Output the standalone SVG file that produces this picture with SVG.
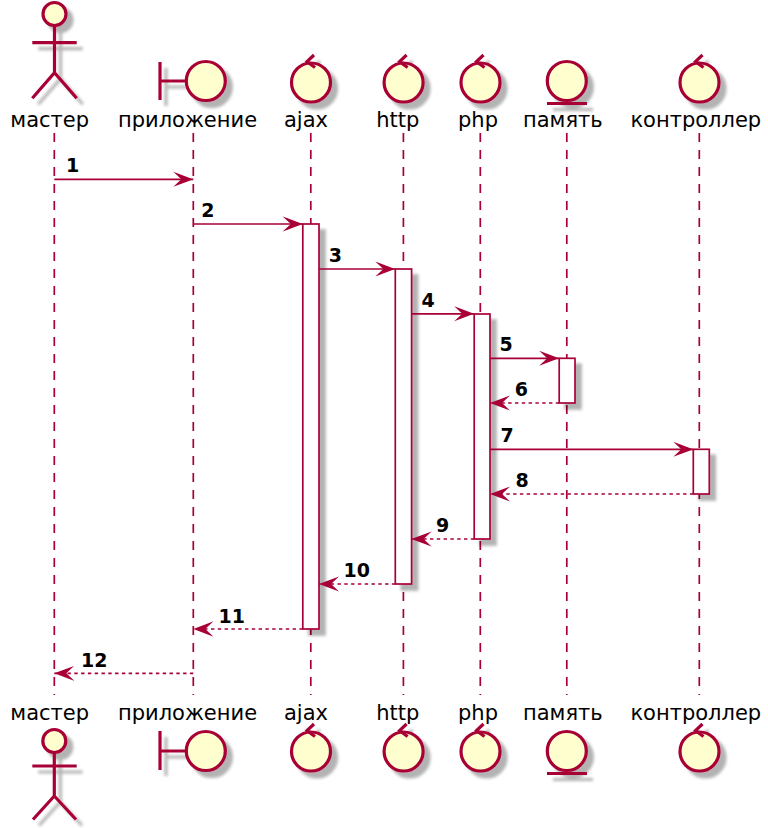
<svg xmlns="http://www.w3.org/2000/svg" width="768" height="828" viewBox="0 0 768 828">
<defs>
<filter id="sh" x="-30%" y="-30%" width="170%" height="170%">
<feGaussianBlur in="SourceAlpha" stdDeviation="1.8"/>
<feOffset dx="6" dy="6" result="o"/>
<feComponentTransfer><feFuncA type="linear" slope="0.3"/></feComponentTransfer>
<feMerge><feMergeNode/><feMergeNode in="SourceGraphic"/></feMerge>
</filter>
<marker id="ah" viewBox="0 0 20 16" refX="20" refY="8" markerWidth="20" markerHeight="16" markerUnits="userSpaceOnUse" orient="auto">
<path d="M20,8 L0,0.5 L8,8 L0,15.5 Z" fill="#A80036"/>
</marker>
</defs>
<style>
.ll{stroke:#A80036;stroke-width:1.7;stroke-dasharray:9,8;fill:none}
.ic{stroke:#A80036;stroke-width:3.2;fill:#FEFECE}
.ln{stroke:#A80036;stroke-width:3.2;fill:none}
.act{stroke:#A80036;stroke-width:1.7;fill:#FFFFFF}
.msg{stroke:#A80036;stroke-width:1.7;fill:none;marker-end:url(#ah)}
.ret{stroke-dasharray:3.4,3.4}
.pn{font-family:"DejaVu Sans",sans-serif;font-size:21px;fill:#000;text-anchor:middle}
.lb{font-family:"DejaVu Sans",sans-serif;font-size:19px;font-weight:bold;fill:#000}
</style>
<rect width="768" height="828" fill="#FFFFFF"/>
<g id="lifelines">
<line class="ll" x1="54.3" y1="133" x2="54.3" y2="695"/>
<line class="ll" x1="193.3" y1="133" x2="193.3" y2="695"/>
<line class="ll" x1="310.8" y1="133" x2="310.8" y2="695"/>
<line class="ll" x1="403.4" y1="133" x2="403.4" y2="695"/>
<line class="ll" x1="480.3" y1="133" x2="480.3" y2="695"/>
<line class="ll" x1="566.8" y1="133" x2="566.8" y2="695"/>
<line class="ll" x1="699.3" y1="133" x2="699.3" y2="695"/>
</g>
<g id="activations" filter="url(#sh)">
<rect class="act" x="302.8" y="224" width="16.2" height="405"/>
<rect class="act" x="395.3" y="269" width="16.3" height="315"/>
<rect class="act" x="474.2" y="314" width="15.8" height="225"/>
<rect class="act" x="559.2" y="358.3" width="15.8" height="44.7"/>
<rect class="act" x="693.3" y="449.3" width="16" height="44.7"/>
</g>
<g id="master">
<g filter="url(#sh)">
<circle class="ic" cx="54.5" cy="14" r="11.5"/>
<path class="ln" d="M54.5,25.5 V72.7 M32.3,42.7 H76.7 M32.3,98.3 L54.5,72.7 L76.7,98.3"/>
</g>
<text class="pn" x="49.7" y="126.7">мастер</text>
<text class="pn" x="49.7" y="720">мастер</text>
<g filter="url(#sh)">
<circle class="ic" cx="54.3" cy="741" r="11.5"/>
<path class="ln" d="M54.3,752.5 V796 M32.3,766 H76.7 M33,819.5 L54.3,796 L76,819.5"/>
</g>
</g>
<g id="app">
<g filter="url(#sh)">
<path class="ln" d="M160,62 V100 M160,81 H186.3"/>
<circle class="ic" cx="205.8" cy="81" r="19.5"/>
</g>
<text class="pn" x="187.5" y="126.7">приложение</text>
<text class="pn" x="187.5" y="720">приложение</text>
<g filter="url(#sh)">
<path class="ln" d="M160,731 V770 M160,751 H186.3"/>
<circle class="ic" cx="205.8" cy="751" r="19.5"/>
</g>
</g>
<g id="ajax">
<g filter="url(#sh)">
<circle class="ic" cx="311" cy="82.5" r="19.5"/>
<path class="ln" d="M314,55 L307,61.5 L315,67.5"/>
</g>
<text class="pn" x="306" y="126.7">ajax</text>
<text class="pn" x="306" y="720">ajax</text>
<g filter="url(#sh)">
<circle class="ic" cx="311" cy="751.5" r="19.5"/>
<path class="ln" d="M314,724 L307,730.5 L315,736.5"/>
</g>
</g>
<g id="http">
<g filter="url(#sh)">
<circle class="ic" cx="403.6" cy="82.5" r="19.5"/>
<path class="ln" d="M406.6,55 L399.6,61.5 L407.6,67.5"/>
</g>
<text class="pn" x="397.8" y="126.7">http</text>
<text class="pn" x="397.8" y="720">http</text>
<g filter="url(#sh)">
<circle class="ic" cx="403.6" cy="751.5" r="19.5"/>
<path class="ln" d="M406.6,724 L399.6,730.5 L407.6,736.5"/>
</g>
</g>
<g id="php">
<g filter="url(#sh)">
<circle class="ic" cx="480.5" cy="82.5" r="19.5"/>
<path class="ln" d="M483.5,55 L476.5,61.5 L484.5,67.5"/>
</g>
<text class="pn" x="478" y="126.7">php</text>
<text class="pn" x="478" y="720">php</text>
<g filter="url(#sh)">
<circle class="ic" cx="480.5" cy="751.5" r="19.5"/>
<path class="ln" d="M483.5,724 L476.5,730.5 L484.5,736.5"/>
</g>
</g>
<g id="memory">
<g filter="url(#sh)">
<circle class="ic" cx="566.8" cy="81" r="19.5"/>
<path class="ln" d="M547,103.5 H587"/>
</g>
<text class="pn" x="562.8" y="126.7">память</text>
<text class="pn" x="562.8" y="720">память</text>
<g filter="url(#sh)">
<circle class="ic" cx="566.8" cy="751" r="19.5"/>
<path class="ln" d="M547,773.5 H587"/>
</g>
</g>
<g id="controller">
<g filter="url(#sh)">
<circle class="ic" cx="699.5" cy="82.5" r="19.5"/>
<path class="ln" d="M702.5,55 L695.5,61.5 L703.5,67.5"/>
</g>
<text class="pn" x="695.8" y="126.7">контроллер</text>
<text class="pn" x="695.8" y="720">контроллер</text>
<g filter="url(#sh)">
<circle class="ic" cx="699.5" cy="751.5" r="19.5"/>
<path class="ln" d="M702.5,724 L695.5,730.5 L703.5,736.5"/>
</g>
</g>
<g id="connectors">
<line class="msg" x1="54.3" y1="179.3" x2="193.3" y2="179.3"/>
<text class="lb" x="66" y="172">1</text>
<line class="msg" x1="193.3" y1="224" x2="302.8" y2="224"/>
<text class="lb" x="201.3" y="216.8">2</text>
<line class="msg" x1="319" y1="269" x2="395.3" y2="269"/>
<text class="lb" x="328.8" y="262">3</text>
<line class="msg" x1="411.6" y1="313.8" x2="474.2" y2="313.8"/>
<text class="lb" x="421.6" y="306.8">4</text>
<line class="msg" x1="490" y1="358.3" x2="559.2" y2="358.3"/>
<text class="lb" x="499.4" y="351.3">5</text>
<line class="msg ret" x1="559.2" y1="403" x2="490" y2="403"/>
<text class="lb" x="514.8" y="396">6</text>
<line class="msg" x1="490" y1="449.3" x2="693.3" y2="449.3"/>
<text class="lb" x="500.4" y="442.3">7</text>
<line class="msg ret" x1="693.3" y1="494" x2="490" y2="494"/>
<text class="lb" x="515.4" y="487">8</text>
<line class="msg ret" x1="474.2" y1="539" x2="411.6" y2="539"/>
<text class="lb" x="436" y="532">9</text>
<line class="msg ret" x1="395.3" y1="584" x2="319" y2="584"/>
<text class="lb" x="343.5" y="577">10</text>
<line class="msg ret" x1="302.8" y1="629" x2="193.3" y2="629"/>
<text class="lb" x="218.5" y="622.5">11</text>
<line class="msg ret" x1="193.3" y1="673.3" x2="54.3" y2="673.3"/>
<text class="lb" x="81" y="667">12</text>
</g>
</svg>
